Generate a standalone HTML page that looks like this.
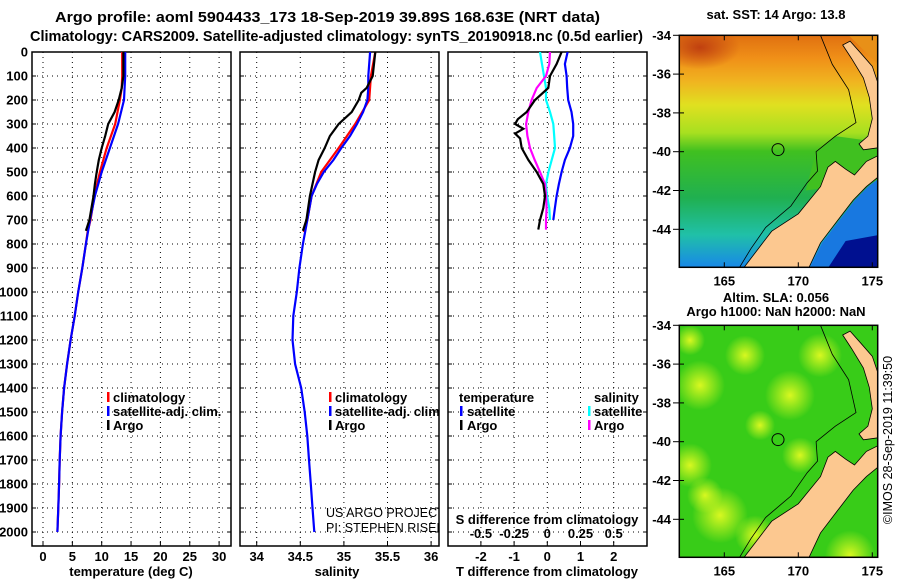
<!DOCTYPE html>
<html><head><meta charset="utf-8"><style>
html,body{margin:0;padding:0;background:#fff;}
svg{display:block;font-family:"Liberation Sans",Arial,sans-serif;}
.b{font-weight:bold;font-size:13px;fill:#000;}
.t{font-weight:bold;font-size:15px;fill:#000;}
</style></head><body>
<svg id="c" width="900" height="580" viewBox="0 0 900 580" xmlns="http://www.w3.org/2000/svg">
<defs>
<clipPath id="cp1"><rect x="32" y="52" width="199" height="494"/></clipPath>
<clipPath id="cp2"><rect x="240" y="52" width="199" height="494"/></clipPath>
<clipPath id="cp3"><rect x="448" y="52" width="199" height="494"/></clipPath>
<clipPath id="cm1"><rect x="679" y="35" width="199" height="232"/></clipPath>
<clipPath id="cm2"><rect x="679" y="325" width="199" height="232"/></clipPath>
<linearGradient id="sst" x1="0" y1="0" x2="0" y2="1">
<stop offset="0" stop-color="#e07010"/><stop offset="0.1" stop-color="#f09018"/>
<stop offset="0.2" stop-color="#f0b420"/><stop offset="0.3" stop-color="#e0e020"/>
<stop offset="0.42" stop-color="#a8e020"/><stop offset="0.5" stop-color="#40c020"/>
<stop offset="0.7" stop-color="#20b050"/><stop offset="0.86" stop-color="#20c0a8"/>
<stop offset="1" stop-color="#1888e8"/>
</linearGradient>
<radialGradient id="blob"><stop offset="0" stop-color="#d8f820"/><stop offset="1" stop-color="#d8f820" stop-opacity="0"/></radialGradient>
<radialGradient id="dk"><stop offset="0" stop-color="#c04010"/><stop offset="1" stop-color="#c04010" stop-opacity="0"/></radialGradient>
</defs>
<text class="t" x="55" y="22" textLength="545" lengthAdjust="spacingAndGlyphs">Argo profile: aoml 5904433_173 18-Sep-2019 39.89S 168.63E (NRT data)</text>
<text class="t" x="30" y="41" textLength="613" lengthAdjust="spacingAndGlyphs">Climatology: CARS2009. Satellite-adjusted climatology: synTS_20190918.nc (0.5d earlier)</text>
<g id="g"></g>
</svg>
<script>
// depth axis
const depthTicks=[0,100,200,300,400,500,600,700,800,900,1000,1100,1200,1300,1400,1500,1600,1700,1800,1900,2000];
// temperature panel
const tTicks=[0,5,10,15,20,25,30];
const tClimDepth=[0,100,150,200,300,400,500,600,700,750,800,900,1000,1100,1200,1300,1400,1500,1600,1700,1800,1900,2000];
const tClim=[13.5,13.5,13.4,13.1,12.3,10.85,9.7,8.75,8.1,7.6,7.3,6.7,6.0,5.4,4.7,4.1,3.6,3.25,3.0,2.85,2.75,2.6,2.45];
const tSatDepth=[0,100,200,300,400,500,600,700,800,900,1000,1100,1200,1300,1400,1500,1600,1700,1800,1900,2000];
const tSat=[14.0,14.0,13.8,12.8,11.4,10.0,8.85,8.0,7.3,6.7,6.0,5.4,4.7,4.1,3.6,3.25,3.0,2.85,2.75,2.6,2.45];
const argoDepth=[0,100,150,200,250,300,350,400,450,500,550,600,700,745];
const tArgo=[13.7,13.7,13.4,12.9,12.2,11.1,10.6,10.0,9.5,9.15,8.85,8.6,7.9,7.3];
// salinity panel
const sTicks=[34,34.5,35,35.5,36];
const sTickLabels=["34","34.5","35","35.5","36"];
const sClimDepth=[0,100,200,300,400,500,600,700,750];
const sClim=[35.36,35.31,35.29,35.13,34.94,34.74,34.63,34.58,34.54];
const sSatDepth=[0,100,150,200,250,300,350,400,450,500,550,600,700,800,900,1000,1100,1200,1300,1400,1500,1600,1700,1800,1900,2000];
const sSat=[35.30,35.28,35.28,35.27,35.22,35.15,35.07,34.97,34.88,34.77,34.69,34.63,34.58,34.53,34.49,34.46,34.42,34.41,34.44,34.51,34.55,34.58,34.60,34.62,34.64,34.66];
const sArgoDepth=[0,100,150,170,200,250,300,350,400,450,500,550,600,700,745];
const sArgo=[35.36,35.33,35.26,35.2,35.17,35.09,34.94,34.84,34.78,34.71,34.67,34.64,34.61,34.57,34.53];
// difference panel
const dTTicks=[-2,-1,0,1,2];
const dSTicks=[-0.5,-0.25,0,0.25,0.5];
const dSTickLabels=["-0.5","-0.25","0","0.25","0.5"];
const dDepth=[0,50,100,150,200,250,300,350,400,450,500,550,600,650,700];
const dTSat=[0.61,0.53,0.58,0.6,0.63,0.73,0.78,0.78,0.68,0.53,0.43,0.35,0.28,0.23,0.18];
const dArgoDepth=[0,50,100,150,200,250,280,300,320,340,360,400,450,500,550,600,650,700,740];
const dTArgo=[0.43,0.28,0.08,0.03,-0.37,-0.62,-0.89,-0.97,-0.72,-0.97,-0.82,-0.77,-0.57,-0.32,-0.12,-0.07,-0.12,-0.22,-0.27];
const dSSat=[-0.055,-0.04,-0.025,-0.01,-0.01,0.02,0.045,0.052,0.058,0.033,0.008,-0.01,-0.002,0.015,0.02];
const dSArgoDepth=[0,50,100,150,200,250,300,350,400,450,500,550,600,650,700,740];
const dSArgo=[0.02,0.015,-0.01,-0.08,-0.118,-0.143,-0.16,-0.15,-0.13,-0.095,-0.055,-0.018,-0.01,-0.005,-0.01,-0.01];
// maps
const mapLonTicks=[165,170,175];
const mapLatTicks=[-34,-36,-38,-40,-42,-44];
const argoLon=168.63, argoLat=-39.89;

const NS='http://www.w3.org/2000/svg';
const G=document.getElementById('g');
function mk(tag,attrs,parent){const e=document.createElementNS(NS,tag);for(const k in attrs)e.setAttribute(k,attrs[k]);(parent||G).appendChild(e);return e;}
const Y=d=>52+0.24*d;
const xT=v=>43+5.87*v;
const xS=v=>256.7+87.2*(v-34);
const xDT=v=>547.3+33.2*v;
const xDS=v=>547.3+132.8*v;

function panel(x0,name,clip,xTicksArr,xf,labels,showY){
  const g=mk('g',{});
  
  
  const gr=mk('g',{'clip-path':'url(#'+clip+')'},g);
  depthTicks.forEach(d=>{
    mk('line',{x1:x0,x2:x0+199,y1:Y(d),y2:Y(d),stroke:'#000','stroke-width':1,'stroke-dasharray':'1,4'},gr);
    mk('line',{x1:x0,x2:x0+4,y1:Y(d),y2:Y(d),stroke:'#000'},g);
    mk('line',{x1:x0+195,x2:x0+199,y1:Y(d),y2:Y(d),stroke:'#000'},g);
  });
  xTicksArr.forEach((v,i)=>{
    const x=xf(v);
    mk('line',{x1:x,x2:x,y1:52,y2:546,stroke:'#000','stroke-width':1,'stroke-dasharray':'1,4'},gr);
    mk('line',{x1:x,x2:x,y1:546,y2:541,stroke:'#000'},g);
    if(labels){const t=mk('text',{x:x,y:561,'text-anchor':'middle',class:'b'},g);t.textContent=labels[i];
      
      }
  });
  const r=mk('rect',{x:x0,y:52,width:199,height:494,fill:'none',stroke:'#000','stroke-width':1.5},g);
  
  
  if(showY){depthTicks.forEach(d=>{const t=mk('text',{x:28,y:Y(d)+4.5,'text-anchor':'end',class:'b'},g);t.textContent=String(d);
    
    });}
  return g;
}
function line(depths,vals,xf,color,clip,name){
  const pts=depths.map((d,i)=>xf(vals[i]).toFixed(1)+','+Y(d).toFixed(1)).join(' ');
  const p=mk('polyline',{points:pts,fill:'none',stroke:color,'stroke-width':2.2,'clip-path':'url(#'+clip+')'});
  
  
}
function text(x,y,s,name,extra){const t=mk('text',Object.assign({x:x,y:y,class:'b'},extra||{}));t.textContent=s;
  
  return t;}
function legBar(x,y,c,name){const r=mk('rect',{x:x,y:y-10,width:2.5,height:10,fill:c});
  
  }

// Panel 1
panel(32,'temperature-panel','cp1',tTicks,xT,tTicks.map(String),true);
line(tClimDepth,tClim,xT,'#ff0000','cp1','climatology-temperature-line');
line(tSatDepth,tSat,xT,'#0000ff','cp1','satellite-temperature-line');
line(argoDepth,tArgo,xT,'#000000','cp1','argo-temperature-line');
text(131,576,'temperature (deg C)','x-axis-title',{'text-anchor':'middle'});
legBar(107,402,'#ff0000','legend-climatology-swatch');text(113,402,'climatology','legend-climatology');
legBar(107,416,'#0000ff','legend-satellite-swatch');text(113,416,'satellite-adj. clim.','legend-satellite');
legBar(107,430,'#000','legend-argo-swatch');text(113,430,'Argo','legend-argo');

// Panel 2
panel(240,'salinity-panel','cp2',sTicks,xS,sTickLabels,false);
line(sClimDepth,sClim,xS,'#ff0000','cp2','climatology-salinity-line');
line(sSatDepth,sSat,xS,'#0000ff','cp2','satellite-salinity-line');
line(sArgoDepth,sArgo,xS,'#000000','cp2','argo-salinity-line');
text(337,576,'salinity','x-axis-title-salinity',{'text-anchor':'middle'});
legBar(329,402,'#ff0000','legend-climatology-swatch-2');text(335,402,'climatology','legend-climatology-2',{'clip-path':'url(#cp2)'});
legBar(329,416,'#0000ff','legend-satellite-swatch-2');text(335,416,'satellite-adj. clim.','legend-satellite-2',{'clip-path':'url(#cp2)'});
legBar(329,430,'#000','legend-argo-swatch-2');text(335,430,'Argo','legend-argo-2');
text(326,517,'US ARGO PROJECT','credit-project',{'font-weight':'normal',class:'','font-size':'12.5','clip-path':'url(#cp2)'});
text(326,532,'PI: STEPHEN RISER','credit-pi',{'font-weight':'normal',class:'','font-size':'12.5','clip-path':'url(#cp2)'});

// Panel 3
panel(448,'difference-panel','cp3',dTTicks,xDT,dTTicks.map(String),false);
line(dDepth,dSSat,xDS,'#00ffff','cp3','satellite-salinity-diff-line');
line(dSArgoDepth,dSArgo,xDS,'#ff00ff','cp3','argo-salinity-diff-line');
line(dDepth,dTSat,xDT,'#0000ff','cp3','satellite-temperature-diff-line');
line(dArgoDepth,dTArgo,xDT,'#000000','cp3','argo-temperature-diff-line');
text(459,402,'temperature','legend-temperature-header');
legBar(460,416,'#0000ff','legend-t-sat-swatch');text(467,416,'satellite','legend-t-sat');
legBar(460,430,'#000','legend-t-argo-swatch');text(467,430,'Argo','legend-t-argo');
text(594,402,'salinity','legend-salinity-header');
legBar(588,416,'#00ffff','legend-s-sat-swatch');text(594,416,'satellite','legend-s-sat');
legBar(588,430,'#ff00ff','legend-s-argo-swatch');text(594,430,'Argo','legend-s-argo');
text(547,524,'S difference from climatology','s-axis-title',{'text-anchor':'middle'});
dSTicks.forEach((v,i)=>{text(xDS(v),538,dSTickLabels[i],'s-tick-label',{'text-anchor':'middle'});});
text(547,576,'T difference from climatology','x-axis-title-diff',{'text-anchor':'middle'});

// Maps
const mX=lon=>679.3+14.8*(lon-161.96);
const mY=(top,lat)=>top+19.4*(-34-lat);
function landPts(top){
  const land=[[166.3,-46],[168.2,-44.1],[170,-43.2],[171.5,-41.8],[172,-40.8],[172.5,-40.5],[173.2,-40.9],[173.8,-41.2],[174.6,-40.5],[175.4,-40.2],[175.4,-41.3],[174.6,-41.8],[173.7,-42.5],[172.8,-43.4],[171.5,-44.7],[170.7,-46]];
  return land.map(p=>mX(p[0]).toFixed(1)+','+mY(top,p[1]).toFixed(1)).join(' ');
}
function niPts(top){
  const ni=[[173.0,-34.5],[173.6,-35.2],[174.4,-36.2],[174.8,-37.2],[175.0,-38.3],[174.7,-39.2],[174.1,-39.6],[174.4,-39.9],[175.4,-39.8],[175.4,-36.5],[175.0,-35.6],[174.2,-34.9],[173.5,-34.3]];
  return ni.map(p=>mX(p[0]).toFixed(1)+','+mY(top,p[1]).toFixed(1)).join(' ');
}
function mapFrame(top,name,clip,bg){
  const g=mk('g',{});
  
  
  const c=mk('g',{'clip-path':'url(#'+clip+')'},g);
  bg(c,top);
  const sh=[[171.5,-34],[172.3,-35.5],[173.4,-36.8],[173.9,-38.5],[172.5,-39.2],[171.2,-40],[171.3,-41],[170.6,-41.6],[169.5,-42.8],[167.8,-43.9],[166.8,-45],[166,-46]];
  mk('polyline',{points:sh.map(p=>mX(p[0]).toFixed(1)+','+mY(top,p[1]).toFixed(1)).join(' '),fill:'none',stroke:'#000','stroke-width':0.8},c);
  const l1=mk('polygon',{points:landPts(top),fill:'#fcc890',stroke:'#000','stroke-width':0.8},c);
  
  
  const l2=mk('polygon',{points:niPts(top),fill:'#fcc890',stroke:'#000','stroke-width':0.8},c);
  
  
  const ci=mk('circle',{cx:mX(argoLon),cy:mY(top,argoLat),r:6,fill:'none',stroke:'#000','stroke-width':1},c);
  
  
  mk('rect',{x:679.3,y:top,width:198.4,height:232,fill:'none',stroke:'#000','stroke-width':1.5},g);
  mapLatTicks.forEach(l=>{const y=mY(top,l);
    mk('line',{x1:679.3,x2:684,y1:y,y2:y,stroke:'#000'},g);mk('line',{x1:673,x2:679.3,y1:y,y2:y,stroke:'#000'},g);
    const t=mk('text',{x:671,y:y+4.5,'text-anchor':'end',class:'b'},g);t.textContent=String(l);
    
    });
  mapLonTicks.forEach(l=>{const x=mX(l);
    mk('line',{x1:x,x2:x,y1:top,y2:top+5,stroke:'#000'},g);mk('line',{x1:x,x2:x,y1:top+232,y2:top+227,stroke:'#000'},g);
    const t=mk('text',{x:x,y:top+250,'text-anchor':'middle',class:'b'},g);t.textContent=String(l);
    
    });
}
mapFrame(35.3,'sst-map','cm1',(c,top)=>{
  mk('rect',{x:679,y:top,width:200,height:232,fill:'url(#sst)'},c);
  mk('ellipse',{cx:700,cy:top+12,rx:40,ry:22,fill:'url(#dk)'},c);
  mk('polygon',{points:`${mX(171.2)},${mY(top,-40)} ${mX(172.5)},${mY(top,-39.2)} ${mX(175.4)},${mY(top,-39.5)} ${mX(175.4)},${mY(top,-41.5)} ${mX(170.5)},${mY(top,-42)}`,fill:'#40c020'},c);
  mk('polygon',{points:`${mX(170.8)},${mY(top,-46)} ${mX(171.6)},${mY(top,-44.7)} ${mX(172.9)},${mY(top,-43.4)} ${mX(173.8)},${mY(top,-42.5)} ${mX(174.7)},${mY(top,-41.8)} ${mX(175.4)},${mY(top,-41.4)} ${mX(175.4)},${mY(top,-46)}`,fill:'#1878e0'},c);
  mk('polygon',{points:`${mX(172.0)},${mY(top,-46)} ${mX(173.2)},${mY(top,-44.6)} ${mX(175.4)},${mY(top,-44.3)} ${mX(175.4)},${mY(top,-46)}`,fill:'#001090'},c);
  mk('polygon',{points:`${mX(173.4)},${mY(top,-34)} ${mX(175.4)},${mY(top,-34)} ${mX(175.4)},${mY(top,-35.5)}`,fill:'#e89018'},c);
});
mapFrame(325.3,'sla-map','cm2',(c,top)=>{
  mk('rect',{x:679,y:top,width:200,height:232,fill:'#38cc18'},c);
  [[700,60,25],[690,140,22],[720,190,28],[705,170,18],[790,70,25],[820,30,22],[755,210,20],[800,130,18],[745,30,20],[760,100,15],[850,230,25],[690,15,15]].forEach(b=>{
    mk('circle',{cx:b[0],cy:top+b[1],r:b[2],fill:'url(#blob)'},c);
  });
});
text(776,19,'sat. SST: 14 Argo: 13.8','sst-map-title',{'text-anchor':'middle'});
text(776,302,'Altim. SLA: 0.056','sla-map-title',{'text-anchor':'middle'});
text(776,316,'Argo h1000: NaN h2000: NaN','sla-map-subtitle',{'text-anchor':'middle'});
text(892,440,'©IMOS 28-Sep-2019 11:39:50','imos-timestamp',{'text-anchor':'middle','font-weight':'normal',class:'','font-size':'12.5',transform:'rotate(-90 892 440)'});
</script>
</body></html>
